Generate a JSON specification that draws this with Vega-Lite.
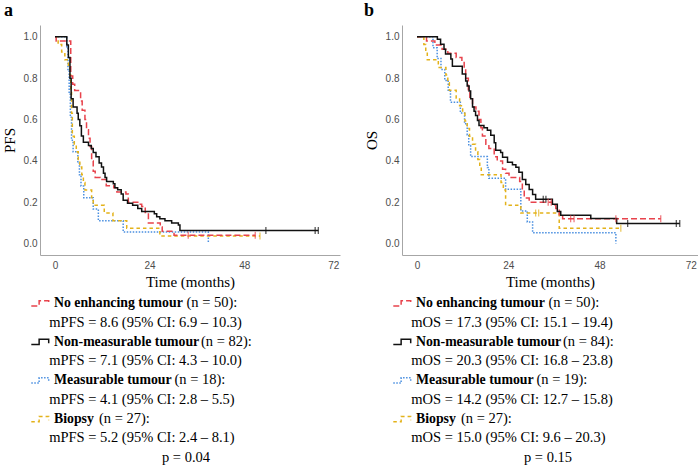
{
  "$schema": "https://vega.github.io/schema/vega-lite/v6.json",
  "background": "white",
  "padding": {"left": 2, "top": 2, "right": 0, "bottom": 0},
  "config": {
    "view": {"stroke": null},
    "axis": {"domainColor": "#a6a6a6", "domainWidth": 1, "ticks": false, "grid": false, "labelFont": "Liberation Sans", "labelFontSize": 10, "labelColor": "#4d4d4d", "titleFont": "Liberation Serif", "titleFontSize": 15, "titleFontWeight": "normal", "titleColor": "#000000"}
  },
  "datasets": {
    "km": [
      {"p":"a","g":"Measurable","t":0,"s":1},{"p":"a","g":"Measurable","t":3.0,"s":0.944},{"p":"a","g":"Measurable","t":3.3,"s":0.833},{"p":"a","g":"Measurable","t":3.6,"s":0.722},{"p":"a","g":"Measurable","t":3.9,"s":0.611},{"p":"a","g":"Measurable","t":4.2,"s":0.5},{"p":"a","g":"Measurable","t":4.6,"s":0.444},{"p":"a","g":"Measurable","t":5.8,"s":0.389},{"p":"a","g":"Measurable","t":6.2,"s":0.333},{"p":"a","g":"Measurable","t":6.6,"s":0.278},{"p":"a","g":"Measurable","t":7.3,"s":0.222},{"p":"a","g":"Measurable","t":9.7,"s":0.167},{"p":"a","g":"Measurable","t":11.0,"s":0.111},{"p":"a","g":"Measurable","t":17.3,"s":0.056},{"p":"a","g":"Measurable","t":38.9,"s":0.0},
      {"p":"a","g":"Biopsy","t":0,"s":1},{"p":"a","g":"Biopsy","t":0.8,"s":0.963},{"p":"a","g":"Biopsy","t":1.7,"s":0.926},{"p":"a","g":"Biopsy","t":2.5,"s":0.889},{"p":"a","g":"Biopsy","t":3.4,"s":0.852},{"p":"a","g":"Biopsy","t":3.8,"s":0.815},{"p":"a","g":"Biopsy","t":4.0,"s":0.741},{"p":"a","g":"Biopsy","t":4.2,"s":0.63},{"p":"a","g":"Biopsy","t":4.4,"s":0.519},{"p":"a","g":"Biopsy","t":4.9,"s":0.481},{"p":"a","g":"Biopsy","t":5.4,"s":0.444},{"p":"a","g":"Biopsy","t":5.9,"s":0.407},{"p":"a","g":"Biopsy","t":6.3,"s":0.37},{"p":"a","g":"Biopsy","t":6.8,"s":0.333},{"p":"a","g":"Biopsy","t":7.2,"s":0.296},{"p":"a","g":"Biopsy","t":7.6,"s":0.259},{"p":"a","g":"Biopsy","t":9.3,"s":0.222},{"p":"a","g":"Biopsy","t":9.7,"s":0.185},{"p":"a","g":"Biopsy","t":12.5,"s":0.148},{"p":"a","g":"Biopsy","t":14.7,"s":0.111},{"p":"a","g":"Biopsy","t":18.2,"s":0.074},{"p":"a","g":"Biopsy","t":26.6,"s":0.037},{"p":"a","g":"Biopsy","t":52.0,"s":0.037},
      {"p":"a","g":"No enhancing","t":0,"s":1},{"p":"a","g":"No enhancing","t":0.3,"s":0.98},{"p":"a","g":"No enhancing","t":4.0,"s":0.81},{"p":"a","g":"No enhancing","t":4.5,"s":0.77},{"p":"a","g":"No enhancing","t":5.0,"s":0.74},{"p":"a","g":"No enhancing","t":6.5,"s":0.69},{"p":"a","g":"No enhancing","t":6.9,"s":0.645},{"p":"a","g":"No enhancing","t":7.6,"s":0.6},{"p":"a","g":"No enhancing","t":8.0,"s":0.55},{"p":"a","g":"No enhancing","t":8.5,"s":0.51},{"p":"a","g":"No enhancing","t":8.9,"s":0.47},{"p":"a","g":"No enhancing","t":9.3,"s":0.4},{"p":"a","g":"No enhancing","t":9.7,"s":0.35},{"p":"a","g":"No enhancing","t":10.2,"s":0.32},{"p":"a","g":"No enhancing","t":11.5,"s":0.31},{"p":"a","g":"No enhancing","t":13.0,"s":0.28},{"p":"a","g":"No enhancing","t":14.9,"s":0.27},{"p":"a","g":"No enhancing","t":15.7,"s":0.25},{"p":"a","g":"No enhancing","t":18.0,"s":0.24},{"p":"a","g":"No enhancing","t":18.6,"s":0.2},{"p":"a","g":"No enhancing","t":21.0,"s":0.19},{"p":"a","g":"No enhancing","t":22.0,"s":0.18},{"p":"a","g":"No enhancing","t":22.9,"s":0.15},{"p":"a","g":"No enhancing","t":23.7,"s":0.1},{"p":"a","g":"No enhancing","t":26.7,"s":0.08},{"p":"a","g":"No enhancing","t":27.2,"s":0.06},{"p":"a","g":"No enhancing","t":30.2,"s":0.04},{"p":"a","g":"No enhancing","t":50.8,"s":0.04},
      {"p":"a","g":"Non-measurable","t":0,"s":1},{"p":"a","g":"Non-measurable","t":3.0,"s":0.96},{"p":"a","g":"Non-measurable","t":3.4,"s":0.9},{"p":"a","g":"Non-measurable","t":3.8,"s":0.8},{"p":"a","g":"Non-measurable","t":4.1,"s":0.7},{"p":"a","g":"Non-measurable","t":4.6,"s":0.66},{"p":"a","g":"Non-measurable","t":5.6,"s":0.63},{"p":"a","g":"Non-measurable","t":5.9,"s":0.6},{"p":"a","g":"Non-measurable","t":6.3,"s":0.57},{"p":"a","g":"Non-measurable","t":6.7,"s":0.52},{"p":"a","g":"Non-measurable","t":7.2,"s":0.49},{"p":"a","g":"Non-measurable","t":8.5,"s":0.475},{"p":"a","g":"Non-measurable","t":9.2,"s":0.46},{"p":"a","g":"Non-measurable","t":9.7,"s":0.44},{"p":"a","g":"Non-measurable","t":10.4,"s":0.42},{"p":"a","g":"Non-measurable","t":11.2,"s":0.39},{"p":"a","g":"Non-measurable","t":11.8,"s":0.37},{"p":"a","g":"Non-measurable","t":12.3,"s":0.34},{"p":"a","g":"Non-measurable","t":12.7,"s":0.32},{"p":"a","g":"Non-measurable","t":13.1,"s":0.3},{"p":"a","g":"Non-measurable","t":14.8,"s":0.29},{"p":"a","g":"Non-measurable","t":15.2,"s":0.27},{"p":"a","g":"Non-measurable","t":15.9,"s":0.26},{"p":"a","g":"Non-measurable","t":16.8,"s":0.24},{"p":"a","g":"Non-measurable","t":17.3,"s":0.21},{"p":"a","g":"Non-measurable","t":18.4,"s":0.195},{"p":"a","g":"Non-measurable","t":19.7,"s":0.185},{"p":"a","g":"Non-measurable","t":21.0,"s":0.17},{"p":"a","g":"Non-measurable","t":22.0,"s":0.155},{"p":"a","g":"Non-measurable","t":25.2,"s":0.145},{"p":"a","g":"Non-measurable","t":25.8,"s":0.13},{"p":"a","g":"Non-measurable","t":26.6,"s":0.12},{"p":"a","g":"Non-measurable","t":27.9,"s":0.11},{"p":"a","g":"Non-measurable","t":29.6,"s":0.1},{"p":"a","g":"Non-measurable","t":31.3,"s":0.09},{"p":"a","g":"Non-measurable","t":31.7,"s":0.063},{"p":"a","g":"Non-measurable","t":66.8,"s":0.063},
      {"p":"b","g":"Measurable","t":0,"s":1},{"p":"b","g":"Measurable","t":4.2,"s":0.947},{"p":"b","g":"Measurable","t":5.3,"s":0.895},{"p":"b","g":"Measurable","t":6.3,"s":0.842},{"p":"b","g":"Measurable","t":7.3,"s":0.789},{"p":"b","g":"Measurable","t":8.2,"s":0.737},{"p":"b","g":"Measurable","t":8.8,"s":0.684},{"p":"b","g":"Measurable","t":11.4,"s":0.632},{"p":"b","g":"Measurable","t":12.5,"s":0.579},{"p":"b","g":"Measurable","t":13.2,"s":0.526},{"p":"b","g":"Measurable","t":13.6,"s":0.474},{"p":"b","g":"Measurable","t":14.1,"s":0.421},{"p":"b","g":"Measurable","t":18.5,"s":0.368},{"p":"b","g":"Measurable","t":18.9,"s":0.316},{"p":"b","g":"Measurable","t":23.3,"s":0.263},{"p":"b","g":"Measurable","t":27.3,"s":0.158},{"p":"b","g":"Measurable","t":29.0,"s":0.105},{"p":"b","g":"Measurable","t":30.4,"s":0.053},{"p":"b","g":"Measurable","t":52.3,"s":0.0},
      {"p":"b","g":"Biopsy","t":0,"s":1},{"p":"b","g":"Biopsy","t":1.8,"s":0.963},{"p":"b","g":"Biopsy","t":2.3,"s":0.926},{"p":"b","g":"Biopsy","t":2.7,"s":0.889},{"p":"b","g":"Biopsy","t":5.6,"s":0.852},{"p":"b","g":"Biopsy","t":7.6,"s":0.815},{"p":"b","g":"Biopsy","t":8.1,"s":0.778},{"p":"b","g":"Biopsy","t":8.5,"s":0.741},{"p":"b","g":"Biopsy","t":10.3,"s":0.704},{"p":"b","g":"Biopsy","t":11.2,"s":0.667},{"p":"b","g":"Biopsy","t":12.0,"s":0.63},{"p":"b","g":"Biopsy","t":12.6,"s":0.593},{"p":"b","g":"Biopsy","t":13.2,"s":0.556},{"p":"b","g":"Biopsy","t":13.8,"s":0.519},{"p":"b","g":"Biopsy","t":14.6,"s":0.481},{"p":"b","g":"Biopsy","t":15.4,"s":0.444},{"p":"b","g":"Biopsy","t":16.0,"s":0.407},{"p":"b","g":"Biopsy","t":16.5,"s":0.37},{"p":"b","g":"Biopsy","t":16.9,"s":0.333},{"p":"b","g":"Biopsy","t":22.1,"s":0.296},{"p":"b","g":"Biopsy","t":22.7,"s":0.259},{"p":"b","g":"Biopsy","t":23.3,"s":0.185},{"p":"b","g":"Biopsy","t":27.3,"s":0.148},{"p":"b","g":"Biopsy","t":37.4,"s":0.074},{"p":"b","g":"Biopsy","t":53.6,"s":0.074},
      {"p":"b","g":"No enhancing","t":0,"s":1},{"p":"b","g":"No enhancing","t":2.5,"s":0.98},{"p":"b","g":"No enhancing","t":4.7,"s":0.96},{"p":"b","g":"No enhancing","t":6.6,"s":0.94},{"p":"b","g":"No enhancing","t":8.1,"s":0.92},{"p":"b","g":"No enhancing","t":10.3,"s":0.9},{"p":"b","g":"No enhancing","t":11.8,"s":0.88},{"p":"b","g":"No enhancing","t":12.4,"s":0.84},{"p":"b","g":"No enhancing","t":12.8,"s":0.8},{"p":"b","g":"No enhancing","t":13.5,"s":0.74},{"p":"b","g":"No enhancing","t":13.9,"s":0.7},{"p":"b","g":"No enhancing","t":14.6,"s":0.66},{"p":"b","g":"No enhancing","t":15.5,"s":0.64},{"p":"b","g":"No enhancing","t":16.3,"s":0.6},{"p":"b","g":"No enhancing","t":16.8,"s":0.56},{"p":"b","g":"No enhancing","t":17.2,"s":0.52},{"p":"b","g":"No enhancing","t":18.1,"s":0.48},{"p":"b","g":"No enhancing","t":18.9,"s":0.46},{"p":"b","g":"No enhancing","t":20.3,"s":0.42},{"p":"b","g":"No enhancing","t":21.1,"s":0.4},{"p":"b","g":"No enhancing","t":22.5,"s":0.36},{"p":"b","g":"No enhancing","t":23.3,"s":0.34},{"p":"b","g":"No enhancing","t":24.2,"s":0.32},{"p":"b","g":"No enhancing","t":27.0,"s":0.3},{"p":"b","g":"No enhancing","t":27.7,"s":0.26},{"p":"b","g":"No enhancing","t":28.2,"s":0.22},{"p":"b","g":"No enhancing","t":29.5,"s":0.2},{"p":"b","g":"No enhancing","t":35.6,"s":0.185},{"p":"b","g":"No enhancing","t":36.5,"s":0.17},{"p":"b","g":"No enhancing","t":37.4,"s":0.14},{"p":"b","g":"No enhancing","t":38.3,"s":0.12},{"p":"b","g":"No enhancing","t":64.1,"s":0.12},
      {"p":"b","g":"Non-measurable","t":0,"s":1},{"p":"b","g":"Non-measurable","t":5.35,"s":0.988},{"p":"b","g":"Non-measurable","t":6.2,"s":0.964},{"p":"b","g":"Non-measurable","t":7.1,"s":0.94},{"p":"b","g":"Non-measurable","t":7.5,"s":0.917},{"p":"b","g":"Non-measurable","t":8.9,"s":0.893},{"p":"b","g":"Non-measurable","t":9.3,"s":0.857},{"p":"b","g":"Non-measurable","t":11.9,"s":0.82},{"p":"b","g":"Non-measurable","t":12.8,"s":0.786},{"p":"b","g":"Non-measurable","t":13.2,"s":0.762},{"p":"b","g":"Non-measurable","t":13.7,"s":0.738},{"p":"b","g":"Non-measurable","t":14.1,"s":0.7},{"p":"b","g":"Non-measurable","t":14.6,"s":0.66},{"p":"b","g":"Non-measurable","t":15.0,"s":0.64},{"p":"b","g":"Non-measurable","t":15.4,"s":0.62},{"p":"b","g":"Non-measurable","t":15.9,"s":0.595},{"p":"b","g":"Non-measurable","t":16.3,"s":0.571},{"p":"b","g":"Non-measurable","t":17.6,"s":0.56},{"p":"b","g":"Non-measurable","t":18.5,"s":0.548},{"p":"b","g":"Non-measurable","t":19.4,"s":0.524},{"p":"b","g":"Non-measurable","t":20.3,"s":0.488},{"p":"b","g":"Non-measurable","t":20.7,"s":0.452},{"p":"b","g":"Non-measurable","t":22.0,"s":0.44},{"p":"b","g":"Non-measurable","t":22.5,"s":0.417},{"p":"b","g":"Non-measurable","t":23.8,"s":0.393},{"p":"b","g":"Non-measurable","t":25.1,"s":0.381},{"p":"b","g":"Non-measurable","t":26.0,"s":0.369},{"p":"b","g":"Non-measurable","t":26.8,"s":0.345},{"p":"b","g":"Non-measurable","t":27.7,"s":0.31},{"p":"b","g":"Non-measurable","t":28.6,"s":0.286},{"p":"b","g":"Non-measurable","t":29.5,"s":0.262},{"p":"b","g":"Non-measurable","t":30.4,"s":0.238},{"p":"b","g":"Non-measurable","t":31.2,"s":0.214},{"p":"b","g":"Non-measurable","t":35.6,"s":0.19},{"p":"b","g":"Non-measurable","t":36.9,"s":0.155},{"p":"b","g":"Non-measurable","t":37.8,"s":0.137},{"p":"b","g":"Non-measurable","t":45.7,"s":0.121},{"p":"b","g":"Non-measurable","t":52.5,"s":0.097},{"p":"b","g":"Non-measurable","t":69.1,"s":0.097}
    ],
    "cens": [
      {"p":"a","g":"Non-measurable","t":53.5,"s":0.063},{"p":"a","g":"Non-measurable","t":66.0,"s":0.063},{"p":"a","g":"Non-measurable","t":66.8,"s":0.063},
      {"p":"a","g":"No enhancing","t":33.8,"s":0.04},{"p":"a","g":"No enhancing","t":50.8,"s":0.04},
      {"p":"a","g":"Biopsy","t":52.0,"s":0.037},
      {"p":"b","g":"Non-measurable","t":33.2,"s":0.214},{"p":"b","g":"Non-measurable","t":33.9,"s":0.214},{"p":"b","g":"Non-measurable","t":55.4,"s":0.097},{"p":"b","g":"Non-measurable","t":68.2,"s":0.097},{"p":"b","g":"Non-measurable","t":69.1,"s":0.097},
      {"p":"b","g":"No enhancing","t":34.5,"s":0.2},{"p":"b","g":"No enhancing","t":35.3,"s":0.2},{"p":"b","g":"No enhancing","t":40.4,"s":0.12},{"p":"b","g":"No enhancing","t":41.3,"s":0.12},{"p":"b","g":"No enhancing","t":52.3,"s":0.12},{"p":"b","g":"No enhancing","t":64.1,"s":0.12},
      {"p":"b","g":"Biopsy","t":31.2,"s":0.148},{"p":"b","g":"Biopsy","t":32.0,"s":0.148},{"p":"b","g":"Biopsy","t":53.6,"s":0.074}
    ],
    "leg": [
      {"p":"a","kind":"name","g":"No enhancing","line":1,"text":"No enhancing tumour"},
      {"p":"a","kind":"n","line":1,"x":146.5,"text":"(n = 50):"},
      {"p":"a","kind":"stat","line":2,"text":"mPFS = 8.6 (95% CI: 6.9 – 10.3)"},
      {"p":"a","kind":"name","g":"Non-measurable","line":3,"text":"Non-measurable tumour"},
      {"p":"a","kind":"n","line":3,"x":161,"text":"(n = 82):"},
      {"p":"a","kind":"stat","line":4,"text":"mPFS = 7.1 (95% CI: 4.3 – 10.0)"},
      {"p":"a","kind":"name","g":"Measurable","line":5,"text":"Measurable tumour"},
      {"p":"a","kind":"n","line":5,"x":134.5,"text":"(n = 18):"},
      {"p":"a","kind":"stat","line":6,"text":"mPFS = 4.1 (95% CI: 2.8 – 5.5)"},
      {"p":"a","kind":"name","g":"Biopsy","line":7,"text":"Biopsy"},
      {"p":"a","kind":"n","line":7,"x":59,"text":"(n = 27):"},
      {"p":"a","kind":"stat","line":8,"text":"mPFS = 5.2 (95% CI: 2.4 – 8.1)"},
      {"p":"a","kind":"p","line":9,"text":"p = 0.04"},
      {"p":"b","kind":"name","g":"No enhancing","line":1,"text":"No enhancing tumour"},
      {"p":"b","kind":"n","line":1,"x":146.5,"text":"(n = 50):"},
      {"p":"b","kind":"stat","line":2,"text":"mOS = 17.3 (95% CI: 15.1 – 19.4)"},
      {"p":"b","kind":"name","g":"Non-measurable","line":3,"text":"Non-measurable tumour"},
      {"p":"b","kind":"n","line":3,"x":161,"text":"(n = 84):"},
      {"p":"b","kind":"stat","line":4,"text":"mOS = 20.3 (95% CI: 16.8 – 23.8)"},
      {"p":"b","kind":"name","g":"Measurable","line":5,"text":"Measurable tumour"},
      {"p":"b","kind":"n","line":5,"x":134.5,"text":"(n = 19):"},
      {"p":"b","kind":"stat","line":6,"text":"mOS = 14.2 (95% CI: 12.7 – 15.8)"},
      {"p":"b","kind":"name","g":"Biopsy","line":7,"text":"Biopsy"},
      {"p":"b","kind":"n","line":7,"x":59,"text":"(n = 27):"},
      {"p":"b","kind":"stat","line":8,"text":"mOS = 15.0 (95% CI: 9.6 – 20.3)"},
      {"p":"b","kind":"p","line":9,"text":"p = 0.15"}
    ]
  },
  "columns": 2,
  "spacing": {"row": 29, "column": 62},
  "bounds": "flush",
  "resolve": {"scale": {"x": "independent", "y": "independent"}},
  "concat": [
    {
      "width": 300, "height": 230,
      "title": {"text": "a", "anchor": "start", "frame": "group", "dx": -36, "offset": 5, "font": "Liberation Serif", "fontSize": 18, "fontWeight": "bold", "color": "#000000"},
      "layer": [
        {
          "data": {"name": "km"},
          "transform": [{"filter": "datum.p == 'a'"}],
          "mark": {"type": "line", "interpolate": "step-after", "strokeWidth": 1.5},
          "encoding": {
            "x": {"field": "t", "type": "quantitative", "scale": {"domain": [-3.8, 72.3], "nice": false, "zero": false}, "axis": {"values": [0, 24, 48, 72], "title": "Time (months)", "labelFlush": 5, "labelPadding": 5, "titlePadding": 4}},
            "y": {"field": "s", "type": "quantitative", "scale": {"domain": [-0.055, 1.057], "nice": false, "zero": false}, "axis": {"values": [0, 0.2, 0.4, 0.6, 0.8, 1], "format": ".1f", "title": "PFS", "labelPadding": 3, "titlePadding": 6}},
            "color": {"field": "g", "type": "nominal", "scale": {"domain": ["No enhancing", "Non-measurable", "Measurable", "Biopsy"], "range": ["#e8434c", "#111111", "#4a8fe0", "#e3b21a"]}, "legend": null},
            "strokeDash": {"field": "g", "type": "nominal", "scale": {"domain": ["No enhancing", "Non-measurable", "Measurable", "Biopsy"], "range": [[6, 3], [1, 0], [1.5, 1.5], [3.5, 3]]}, "legend": null}
          }
        },
        {
          "data": {"name": "cens"},
          "transform": [{"filter": "datum.p == 'a'"}],
          "mark": {"type": "tick", "orient": "vertical", "size": 7, "thickness": 1.3},
          "encoding": {
            "x": {"field": "t", "type": "quantitative"},
            "y": {"field": "s", "type": "quantitative"},
            "color": {"field": "g", "type": "nominal", "legend": null}
          }
        }
      ]
    },
    {
      "width": 296, "height": 230,
      "title": {"text": "b", "anchor": "start", "frame": "group", "dx": -38, "offset": 5, "font": "Liberation Serif", "fontSize": 18, "fontWeight": "bold", "color": "#000000"},
      "layer": [
        {
          "data": {"name": "km"},
          "transform": [{"filter": "datum.p == 'b'"}],
          "mark": {"type": "line", "interpolate": "step-after", "strokeWidth": 1.5},
          "encoding": {
            "x": {"field": "t", "type": "quantitative", "scale": {"domain": [-3.95, 73.9], "nice": false, "zero": false}, "axis": {"values": [0, 24, 48, 72], "title": "Time (months)", "labelFlush": 5, "labelPadding": 5, "titlePadding": 4}},
            "y": {"field": "s", "type": "quantitative", "scale": {"domain": [-0.055, 1.057], "nice": false, "zero": false}, "axis": {"values": [0, 0.2, 0.4, 0.6, 0.8, 1], "format": ".1f", "title": "OS", "labelPadding": 3, "titlePadding": 6}},
            "color": {"field": "g", "type": "nominal", "scale": {"domain": ["No enhancing", "Non-measurable", "Measurable", "Biopsy"], "range": ["#e8434c", "#111111", "#4a8fe0", "#e3b21a"]}, "legend": null},
            "strokeDash": {"field": "g", "type": "nominal", "scale": {"domain": ["No enhancing", "Non-measurable", "Measurable", "Biopsy"], "range": [[6, 3], [1, 0], [1.5, 1.5], [3.5, 3]]}, "legend": null}
          }
        },
        {
          "data": {"name": "cens"},
          "transform": [{"filter": "datum.p == 'b'"}],
          "mark": {"type": "tick", "orient": "vertical", "size": 7, "thickness": 1.3},
          "encoding": {
            "x": {"field": "t", "type": "quantitative"},
            "y": {"field": "s", "type": "quantitative"},
            "color": {"field": "g", "type": "nominal", "legend": null}
          }
        }
      ]
    },
    {
      "width": 300, "height": 180,
      "data": {"name": "leg"},
      "transform": [{"filter": "datum.p == 'a'"}],
      "encoding": {
        "y": {"field": "line", "type": "quantitative", "scale": {"domain": [0, 9.33], "reverse": true, "nice": false, "zero": false}, "axis": null}
      },
      "layer": [
        {
          "transform": [{"filter": "datum.kind == 'name'"}],
          "mark": {"type": "point", "shape": "M-1,0.3H-0.1V-0.3H1V0.15", "size": 303, "filled": false, "strokeWidth": 1.5, "opacity": 1},
          "encoding": {
            "x": {"datum": 0, "type": "quantitative", "scale": {"domain": [0, 300], "nice": false, "zero": false}, "axis": null},
            "color": {"field": "g", "type": "nominal", "scale": {"domain": ["No enhancing", "Non-measurable", "Measurable", "Biopsy"], "range": ["#e8434c", "#111111", "#4a8fe0", "#e3b21a"]}, "legend": null},
            "strokeDash": {"field": "g", "type": "nominal", "scale": {"domain": ["No enhancing", "Non-measurable", "Measurable", "Biopsy"], "range": [[6, 3], [1, 0], [1.5, 1.5], [3.5, 3]]}, "legend": null}
          }
        },
        {
          "transform": [{"filter": "datum.kind == 'name'"}],
          "mark": {"type": "text", "align": "left", "baseline": "middle", "font": "Liberation Serif", "fontSize": 13.8, "fontWeight": "bold", "color": "#000000"},
          "encoding": {"x": {"datum": 14, "type": "quantitative"}, "text": {"field": "text"}}
        },
        {
          "transform": [{"filter": "datum.kind == 'n'"}],
          "mark": {"type": "text", "align": "left", "baseline": "middle", "font": "Liberation Serif", "fontSize": 14.5, "color": "#000000"},
          "encoding": {"x": {"field": "x", "type": "quantitative"}, "text": {"field": "text"}}
        },
        {
          "transform": [{"filter": "datum.kind == 'stat'"}],
          "mark": {"type": "text", "align": "left", "baseline": "middle", "font": "Liberation Serif", "fontSize": 14.5, "color": "#000000"},
          "encoding": {"x": {"datum": 9.2, "type": "quantitative"}, "text": {"field": "text"}}
        },
        {
          "transform": [{"filter": "datum.kind == 'p'"}],
          "mark": {"type": "text", "align": "center", "baseline": "middle", "font": "Liberation Serif", "fontSize": 14.5, "color": "#000000"},
          "encoding": {"x": {"datum": 146, "type": "quantitative"}, "text": {"field": "text"}}
        }
      ]
    },
    {
      "width": 300, "height": 180,
      "data": {"name": "leg"},
      "transform": [{"filter": "datum.p == 'b'"}],
      "encoding": {
        "y": {"field": "line", "type": "quantitative", "scale": {"domain": [0, 9.33], "reverse": true, "nice": false, "zero": false}, "axis": null}
      },
      "layer": [
        {
          "transform": [{"filter": "datum.kind == 'name'"}],
          "mark": {"type": "point", "shape": "M-1,0.3H-0.1V-0.3H1V0.15", "size": 303, "filled": false, "strokeWidth": 1.5, "opacity": 1},
          "encoding": {
            "x": {"datum": 0, "type": "quantitative", "scale": {"domain": [0, 300], "nice": false, "zero": false}, "axis": null},
            "color": {"field": "g", "type": "nominal", "scale": {"domain": ["No enhancing", "Non-measurable", "Measurable", "Biopsy"], "range": ["#e8434c", "#111111", "#4a8fe0", "#e3b21a"]}, "legend": null},
            "strokeDash": {"field": "g", "type": "nominal", "scale": {"domain": ["No enhancing", "Non-measurable", "Measurable", "Biopsy"], "range": [[6, 3], [1, 0], [1.5, 1.5], [3.5, 3]]}, "legend": null}
          }
        },
        {
          "transform": [{"filter": "datum.kind == 'name'"}],
          "mark": {"type": "text", "align": "left", "baseline": "middle", "font": "Liberation Serif", "fontSize": 13.8, "fontWeight": "bold", "color": "#000000"},
          "encoding": {"x": {"datum": 14, "type": "quantitative"}, "text": {"field": "text"}}
        },
        {
          "transform": [{"filter": "datum.kind == 'n'"}],
          "mark": {"type": "text", "align": "left", "baseline": "middle", "font": "Liberation Serif", "fontSize": 14.5, "color": "#000000"},
          "encoding": {"x": {"field": "x", "type": "quantitative"}, "text": {"field": "text"}}
        },
        {
          "transform": [{"filter": "datum.kind == 'stat'"}],
          "mark": {"type": "text", "align": "left", "baseline": "middle", "font": "Liberation Serif", "fontSize": 14.5, "color": "#000000"},
          "encoding": {"x": {"datum": 9.2, "type": "quantitative"}, "text": {"field": "text"}}
        },
        {
          "transform": [{"filter": "datum.kind == 'p'"}],
          "mark": {"type": "text", "align": "center", "baseline": "middle", "font": "Liberation Serif", "fontSize": 14.5, "color": "#000000"},
          "encoding": {"x": {"datum": 146, "type": "quantitative"}, "text": {"field": "text"}}
        }
      ]
    }
  ]
}
